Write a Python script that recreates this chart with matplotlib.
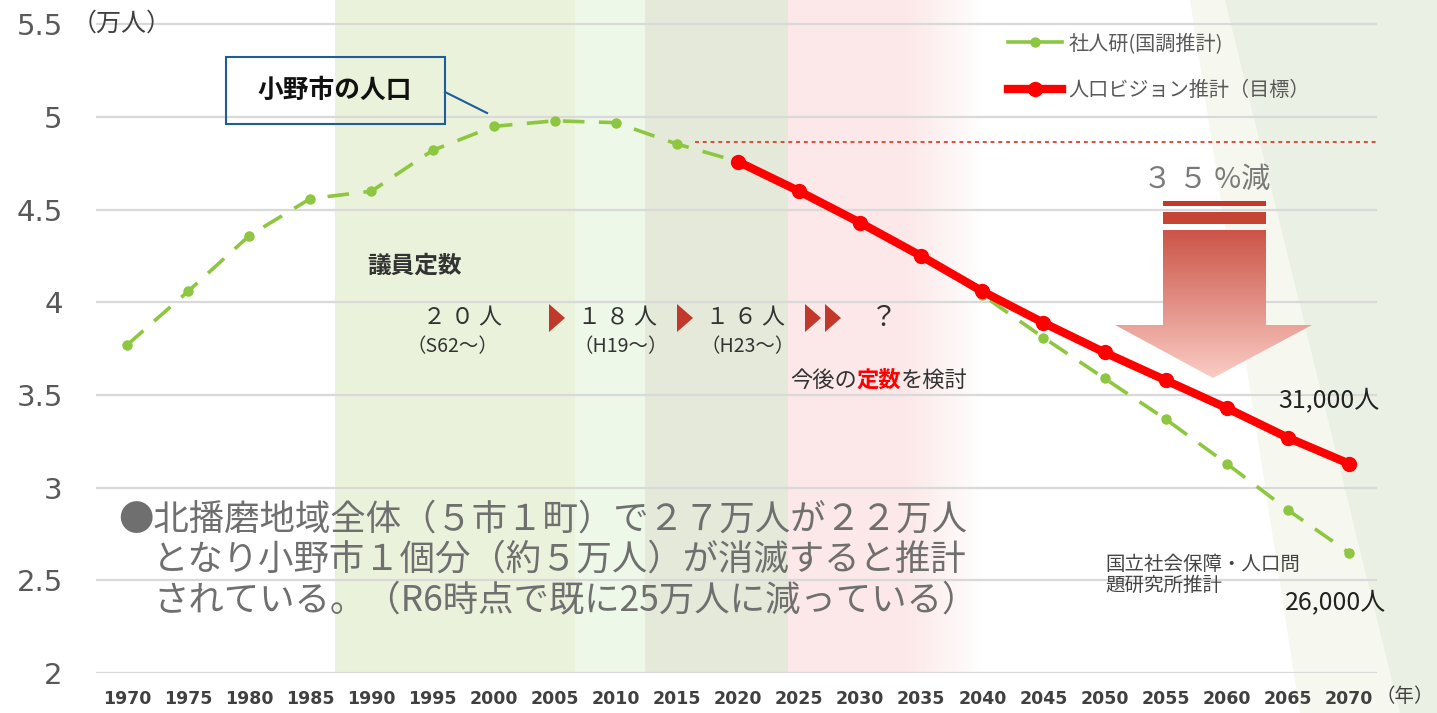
import matplotlib
matplotlib.use("Agg")
import matplotlib.pyplot as plt
import numpy as np
from matplotlib.patches import Polygon, Rectangle
from matplotlib.lines import Line2D

plt.rcParams['font.family'] = ['Noto Sans CJK JP', 'DejaVu Sans']

# data (万人)
years = list(range(1970, 2071, 5))
shajinken = [3.77, 4.06, 4.36, 4.56, 4.60, 4.82, 4.95, 4.98, 4.97, 4.855, 4.76,
             4.60, 4.43, 4.25, 4.04, 3.81, 3.59, 3.37, 3.13, 2.88, 2.65]
vision_years = years[10:]
vision = [4.76, 4.60, 4.43, 4.25, 4.06, 3.89, 3.73, 3.58, 3.43, 3.27, 3.13]
ref_level = 4.865
y_ticks = [2, 2.5, 3, 3.5, 4, 4.5, 5, 5.5]
y_labels = ['2', '2.5', '3', '3.5', '4', '4.5', '5', '5.5']

# council seat periods
band_edges = [1987.0, 2006.7, 2012.4, 2024.1]
band_colors = ['#ebf2dc', '#eef8e8', '#e5e9da']
pink_span = (2024.1, 2040.2)

W, H = 1437, 713
fig = plt.figure(figsize=(W / 100, H / 100), dpi=100)
fig.patch.set_facecolor('white')


def fx(x, y):
    return (x / W, 1 - y / H)


# decorative background on the right
fig.patches.append(Polygon([fx(1190, 0), fx(1225, 0), fx(1437, 560), fx(1437, 713), fx(1300, 713)],
                           closed=True, transform=fig.transFigure,
                           facecolor='#f6f8f0', edgecolor='none', zorder=-2))
fig.patches.append(Polygon([fx(1225, 0), fx(1437, 0), fx(1437, 713), fx(1400, 713)],
                           closed=True, transform=fig.transFigure,
                           facecolor='#eaf0e4', edgecolor='none', zorder=-1))

ax = fig.add_axes([96 / W, 1 - 673 / H, (1377 - 96) / W, 673 / H])
ax.set_facecolor('none')
ax.set_xlim(1967.46, 2072.3)
ax.set_ylim(2, 2 + 673 / 185.3)

for i, c in enumerate(band_colors):
    ax.axvspan(band_edges[i], band_edges[i + 1], color=c, lw=0, zorder=0)

# pink band fading to white
grad = np.ones((1, 200, 4))
grad[..., 0], grad[..., 1], grad[..., 2] = 0.99, 0.91, 0.91
alpha = np.clip((1 - np.linspace(0, 1, 200)) / 0.4, 0, 1)
grad[..., 3] = alpha
ax.imshow(grad, extent=(pink_span[0], pink_span[1], 2, 2 + 673 / 185.3),
          aspect='auto', zorder=0, interpolation='bilinear')

ax.set_yticks(y_ticks)
ax.set_yticklabels(y_labels)
ax.set_xticks(years)
ax.set_xticklabels([str(y) for y in years])
ax.grid(axis='y', color='#d9d9d9', lw=1.6, zorder=1)
ax.tick_params(axis='y', length=0, pad=24, labelsize=21, labelcolor='#595959')
ax.tick_params(axis='x', length=0, pad=12, labelsize=12.5, labelcolor='#404040')
for lab in ax.get_xticklabels():
    lab.set_fontweight('bold')
    lab.set_family(['DejaVu Sans'])
for lab in ax.get_yticklabels():
    lab.set_family(['DejaVu Sans'])
for s in ax.spines.values():
    s.set_visible(False)

ax.axhline(ref_level, xmin=(2016.5 - 1967.46) / (2072.3 - 1967.46), xmax=1,
           color='#e04a3a', lw=1.4, ls=(0, (2, 2)), zorder=2)

green = '#8dc63f'
ax.plot(years, shajinken, color=green, lw=2.6, dashes=(6, 4), marker='o',
        ms=6.5, zorder=3)
ax.plot(vision_years, vision, color='#ff0000', lw=6, marker='o', ms=10,
        zorder=4, solid_capstyle='round')

# legend
h1 = Line2D([], [], color=green, lw=2.6, marker='o', ms=6.5)
h2 = Line2D([], [], color='#ff0000', lw=6, marker='o', ms=10)
leg = fig.legend([h1, h2], ['社人研(国調推計)', '人口ビジョン推計（目標）'],
                 loc='upper left', bbox_to_anchor=fx(1008, 33), frameon=False,
                 fontsize=14.5, handlelength=2.7, handletextpad=0.3,
                 labelspacing=1.3, borderpad=0, borderaxespad=0)
for t in leg.get_texts():
    t.set_color('#595959')

# overlay in pixel coordinates for annotations
ov = fig.add_axes([0, 0, 1, 1], zorder=5)
ov.set_xlim(0, W)
ov.set_ylim(H, 0)
ov.axis('off')
ov.set_facecolor('none')

ov.text(122, 24, '（万人）', fontsize=18, color='#404040', va='center', ha='center')
ov.text(1405, 697, '（年）', fontsize=14, color='#404040', va='center', ha='center')

# callout
ov.add_patch(Rectangle((226, 57), 219, 67, fill=False, ec='#1f5c99', lw=1.5))
ov.plot([445, 487], [92, 113], color='#1f5c99', lw=1.5)
ov.text(335, 90, '小野市の人口', fontsize=18.5, fontweight='bold', color='#111111',
        ha='center', va='center')

# council seats
dark = '#333333'
ov.text(367, 266, '議員定数', fontsize=17, fontweight='bold', color=dark,
        ha='left', va='center')
for cx, s in [(462, '２ ０ 人'), (617, '１ ８ 人'), (745, '１ ６ 人')]:
    ov.text(cx, 318, s, fontsize=16.5, color=dark, ha='center', va='center')
for cx, s in [(452, '（S62～）'), (621, '（H19～）'), (748, '（H23～）')]:
    ov.text(cx, 347, s, fontsize=14, color=dark, ha='center', va='center')
tri = '#c0392b'
for cx in [556, 684, 812, 832]:
    ov.add_patch(Polygon([(cx - 7, 304), (cx + 9, 318), (cx - 7, 332)],
                         closed=True, fc=tri, ec='none'))
ov.text(884, 318, '？', fontsize=20, color=dark, ha='center', va='center')
t1 = ov.text(790, 380, '今後の', fontsize=16, color=dark, ha='left', va='center')
t2 = ov.annotate('定数', xy=(1, 0.5), xycoords=t1, fontsize=16, color='#ff0000',
                 fontweight='bold', ha='left', va='center')
ov.annotate('を検討', xy=(1, 0.5), xycoords=t2, fontsize=16, color=dark,
            ha='left', va='center')

# bottom note
gray = '#6f6f6f'
ov.text(118, 520, '●北播磨地域全体（５市１町）で２７万人が２２万人',
        fontsize=25.5, color=gray, ha='left', va='center')
ov.text(153, 560, 'となり小野市１個分（約５万人）が消滅すると推計',
        fontsize=25.5, color=gray, ha='left', va='center')
ov.text(153, 600, 'されている。（R6時点で既に25万人に減っている）',
        fontsize=25.5, color=gray, ha='left', va='center')

# right annotations
ov.text(1278, 400, '31,000人', fontsize=18, color='#222222', ha='left', va='center')
ov.text(1285, 602, '26,000人', fontsize=18, color='#222222', ha='left', va='center')
ov.text(1105, 575, '国立社会保障・人口問\n題研究所推計', fontsize=14,
        color='#444444', ha='left', va='center', linespacing=1.05)

# 35% arrow
ov.text(1207, 180, '３ ５ %減', fontsize=21, color='#7a7a7a', ha='center', va='center')
ov.add_patch(Rectangle((1163, 201), 103, 5, fc='#c0392b', ec='none'))
ov.add_patch(Rectangle((1163, 212), 103, 12, fc='#c64434', ec='none'))
arrow = Polygon([(1163, 230), (1266, 230), (1266, 325), (1312, 325), (1213, 378),
                 (1115, 325), (1163, 325)], closed=True, fc='none', ec='none')
ov.add_patch(arrow)
g = np.linspace(0, 1, 256)[:, None]
c0 = np.array([0.80, 0.33, 0.28])
c1 = np.array([0.98, 0.80, 0.77])
img = (c0 + (c1 - c0) * g[..., None]) * np.ones((256, 2, 3))
im = ov.imshow(img, extent=(1115, 1312, 378, 230), aspect='auto', zorder=4,
               interpolation='bilinear')
im.set_clip_path(arrow)
ov.set_xlim(0, W)
ov.set_ylim(H, 0)

fig.savefig('out.png', dpi=100)
